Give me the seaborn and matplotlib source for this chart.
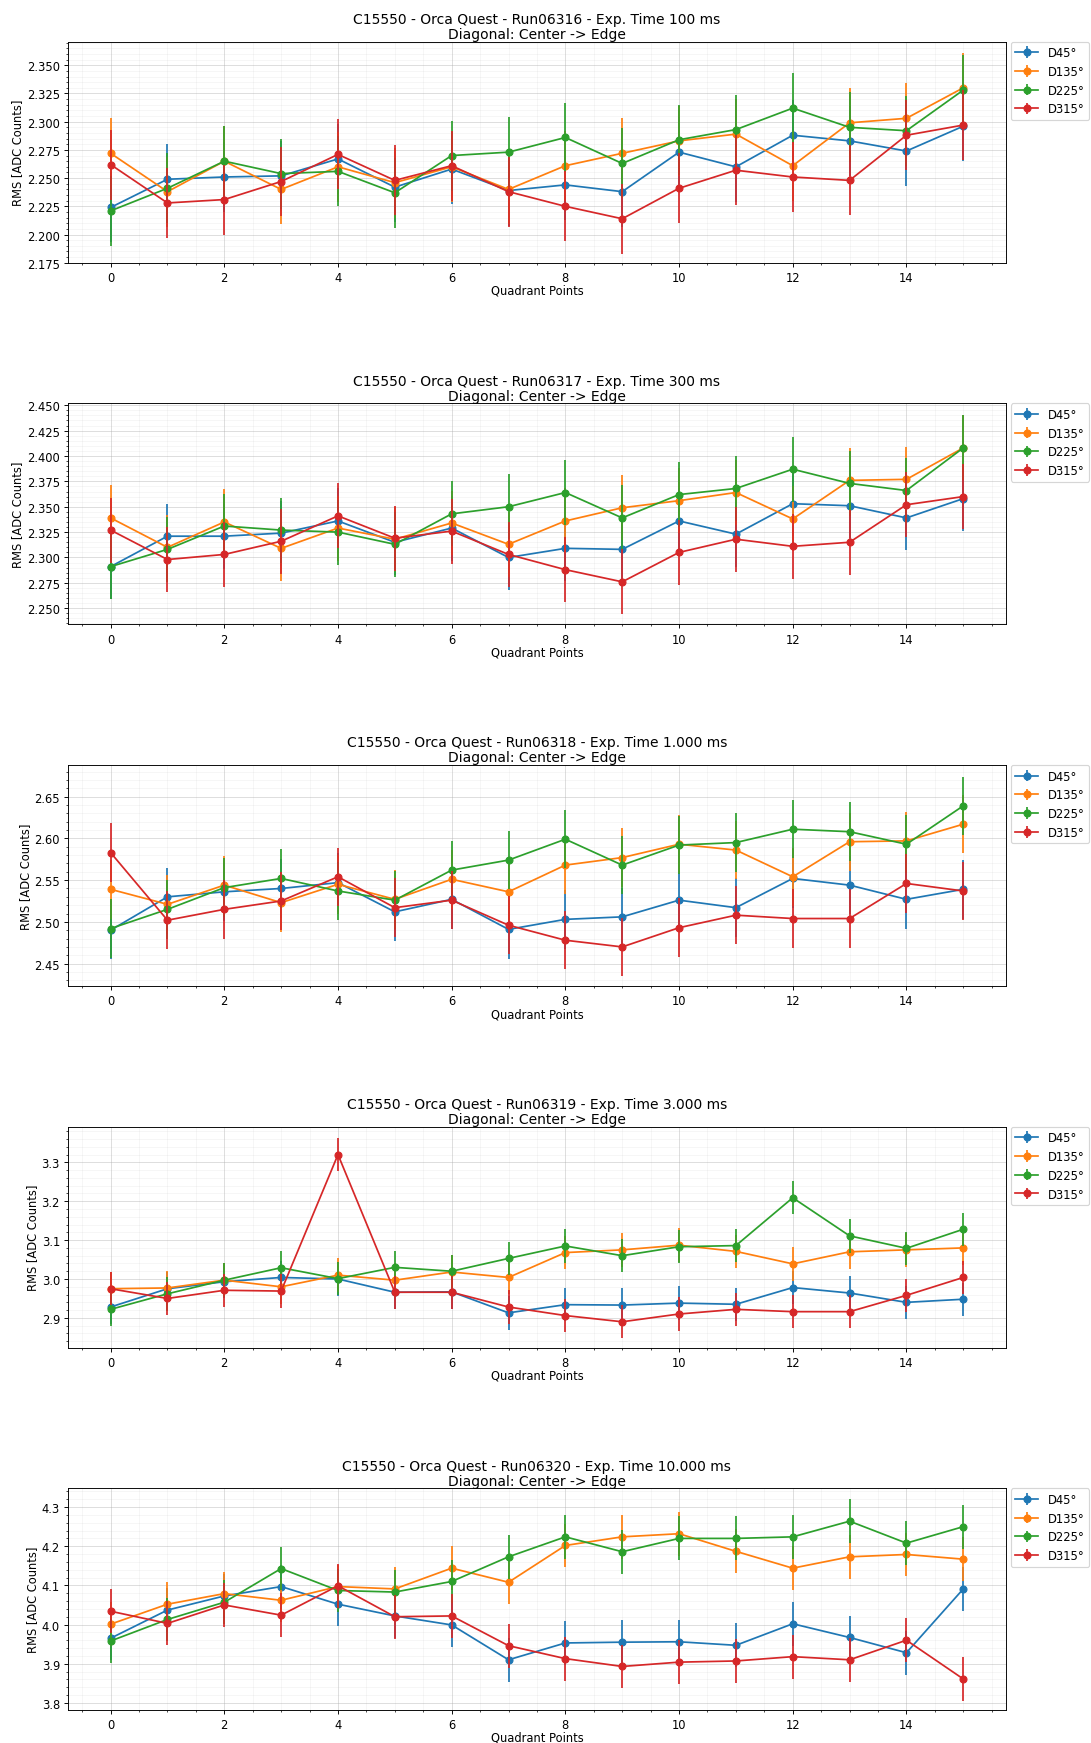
import pandas as pd
import matplotlib
matplotlib.use("Agg")
import matplotlib.pyplot as plt
import seaborn as sns
from matplotlib.ticker import MultipleLocator

# Pontos do quadrante (eixo x)
quadrant_points = [0, 1, 2, 3, 4, 5, 6, 7, 8, 9, 10, 11, 12, 13, 14, 15]
diagonals = ['D45°', 'D135°', 'D225°', 'D315°']
runs = ['Run06316', 'Run06317', 'Run06318', 'Run06319', 'Run06320']
exp_times = ['100 ms', '300 ms', '1.000 ms', '3.000 ms', '10.000 ms']

# Run06316 - 100 ms
run06316_d45 = [2.224, 2.249, 2.251, 2.252, 2.267, 2.242, 2.258, 2.239, 2.244, 2.238, 2.273, 2.260, 2.288, 2.283, 2.274, 2.296]
run06316_d135 = [2.272, 2.238, 2.265, 2.240, 2.260, 2.246, 2.260, 2.240, 2.261, 2.272, 2.283, 2.289, 2.261, 2.299, 2.303, 2.330]
run06316_d225 = [2.221, 2.241, 2.265, 2.254, 2.256, 2.237, 2.270, 2.273, 2.286, 2.263, 2.284, 2.293, 2.312, 2.295, 2.292, 2.328]
run06316_d315 = [2.262, 2.228, 2.231, 2.247, 2.271, 2.248, 2.261, 2.238, 2.225, 2.214, 2.241, 2.257, 2.251, 2.248, 2.288, 2.297]

# Run06317 - 300 ms
run06317_d45 = [2.291, 2.321, 2.321, 2.324, 2.336, 2.315, 2.329, 2.300, 2.309, 2.308, 2.336, 2.323, 2.353, 2.351, 2.339, 2.358]
run06317_d135 = [2.339, 2.310, 2.335, 2.309, 2.329, 2.318, 2.334, 2.313, 2.336, 2.349, 2.356, 2.364, 2.338, 2.376, 2.377, 2.408]
run06317_d225 = [2.291, 2.308, 2.331, 2.327, 2.325, 2.313, 2.343, 2.350, 2.364, 2.339, 2.362, 2.368, 2.387, 2.373, 2.366, 2.408]
run06317_d315 = [2.327, 2.298, 2.303, 2.316, 2.341, 2.319, 2.326, 2.303, 2.288, 2.276, 2.305, 2.318, 2.311, 2.315, 2.352, 2.360]

# Run06318 - 1.000 ms
run06318_d45 = [2.490, 2.530, 2.536, 2.540, 2.547, 2.512, 2.527, 2.491, 2.503, 2.506, 2.526, 2.517, 2.552, 2.544, 2.527, 2.539]
run06318_d135 = [2.539, 2.521, 2.544, 2.523, 2.545, 2.527, 2.551, 2.536, 2.568, 2.577, 2.593, 2.586, 2.554, 2.596, 2.597, 2.617]
run06318_d225 = [2.492, 2.515, 2.541, 2.552, 2.537, 2.526, 2.562, 2.574, 2.599, 2.568, 2.592, 2.595, 2.611, 2.608, 2.593, 2.639]
run06318_d315 = [2.583, 2.502, 2.515, 2.525, 2.554, 2.517, 2.526, 2.496, 2.478, 2.470, 2.493, 2.508, 2.504, 2.504, 2.546, 2.537]

# Run06319 - 3.000 ms
run06319_d45 = [2.928, 2.975, 2.993, 3.004, 3.000, 2.966, 2.967, 2.913, 2.934, 2.933, 2.938, 2.935, 2.978, 2.964, 2.940, 2.948]
run06319_d135 = [2.975, 2.977, 2.997, 2.980, 3.010, 2.997, 3.018, 3.004, 3.068, 3.075, 3.087, 3.071, 3.039, 3.070, 3.075, 3.080]
run06319_d225 = [2.922, 2.962, 2.997, 3.029, 3.001, 3.030, 3.020, 3.053, 3.085, 3.060, 3.083, 3.086, 3.209, 3.111, 3.079, 3.128]
run06319_d315 = [2.975, 2.950, 2.971, 2.969, 3.320, 2.966, 2.966, 2.928, 2.906, 2.890, 2.910, 2.922, 2.916, 2.916, 2.958, 3.004]

# Run06320 - 10.000 ms
run06320_d45 = [3.965, 4.037, 4.073, 4.097, 4.052, 4.022, 3.999, 3.910, 3.953, 3.955, 3.956, 3.947, 4.002, 3.967, 3.928, 4.091]
run06320_d135 = [4.001, 4.052, 4.079, 4.062, 4.097, 4.091, 4.144, 4.108, 4.202, 4.224, 4.232, 4.187, 4.144, 4.173, 4.179, 4.167]
run06320_d225 = [3.958, 4.013, 4.057, 4.143, 4.087, 4.083, 4.110, 4.173, 4.224, 4.186, 4.220, 4.220, 4.224, 4.264, 4.208, 4.250]
run06320_d315 = [4.034, 4.003, 4.050, 4.024, 4.099, 4.020, 4.022, 3.946, 3.913, 3.893, 3.904, 3.907, 3.918, 3.910, 3.960, 3.861]

# Erro do RMS (por run)
rms_err = [0.031, 0.032, 0.035, 0.043, 0.056]

series_by_run = [
    [run06316_d45, run06316_d135, run06316_d225, run06316_d315],
    [run06317_d45, run06317_d135, run06317_d225, run06317_d315],
    [run06318_d45, run06318_d135, run06318_d225, run06318_d315],
    [run06319_d45, run06319_d135, run06319_d225, run06319_d315],
    [run06320_d45, run06320_d135, run06320_d225, run06320_d315],
]

y_limits = [(2.175, 2.371), (2.234, 2.452), (2.423, 2.688), (2.823, 3.392), (3.783, 4.348)]
y_steps = [0.025, 0.025, 0.05, 0.1, 0.1]

colors = sns.color_palette('tab10', 4)

dpi = 83
fig, axes = plt.subplots(5, 1, figsize=(1091 / dpi, 1744 / dpi), dpi=dpi)
fig.subplots_adjust(left=0.0623, right=0.922, top=0.9756, bottom=0.0192, hspace=0.635)

for i, ax in enumerate(axes):
    handles = []
    for j, diag in enumerate(diagonals):
        df = pd.DataFrame({'Quadrant Points': quadrant_points, 'RMS': series_by_run[i][j]})
        sns.lineplot(data=df, x='Quadrant Points', y='RMS', ax=ax, color=colors[j],
                     marker='o', markersize=6, markeredgecolor=colors[j], markeredgewidth=1.0,
                     linewidth=1.5, errorbar=None, legend=False)
        line = ax.lines[-1]
        eb = ax.errorbar(df['Quadrant Points'], df['RMS'], yerr=rms_err[i], fmt='none',
                         ecolor=colors[j], elinewidth=1.5)
        handles.append((line, eb))

    ax.set_title(f'C15550 - Orca Quest - {runs[i]} - Exp. Time {exp_times[i]}\nDiagonal: Center -> Edge',
                 pad=3, linespacing=1.1)
    ax.set_xlabel('Quadrant Points', labelpad=0)
    ax.set_ylabel('RMS [ADC Counts]', labelpad=2)
    ax.set_xlim(-0.75, 15.75)
    ax.set_ylim(*y_limits[i])
    ax.yaxis.set_major_locator(MultipleLocator(y_steps[i]))
    ax.minorticks_on()
    ax.grid(True, which='major', color='#b0b0b0', alpha=0.45, linewidth=0.8)
    ax.grid(True, which='minor', color='#b0b0b0', alpha=0.15, linewidth=0.6)
    ax.legend(handles=handles, labels=diagonals, loc='upper left',
              bbox_to_anchor=(1.005, 1.0), borderaxespad=0)

fig.savefig('out.png', dpi=dpi)
